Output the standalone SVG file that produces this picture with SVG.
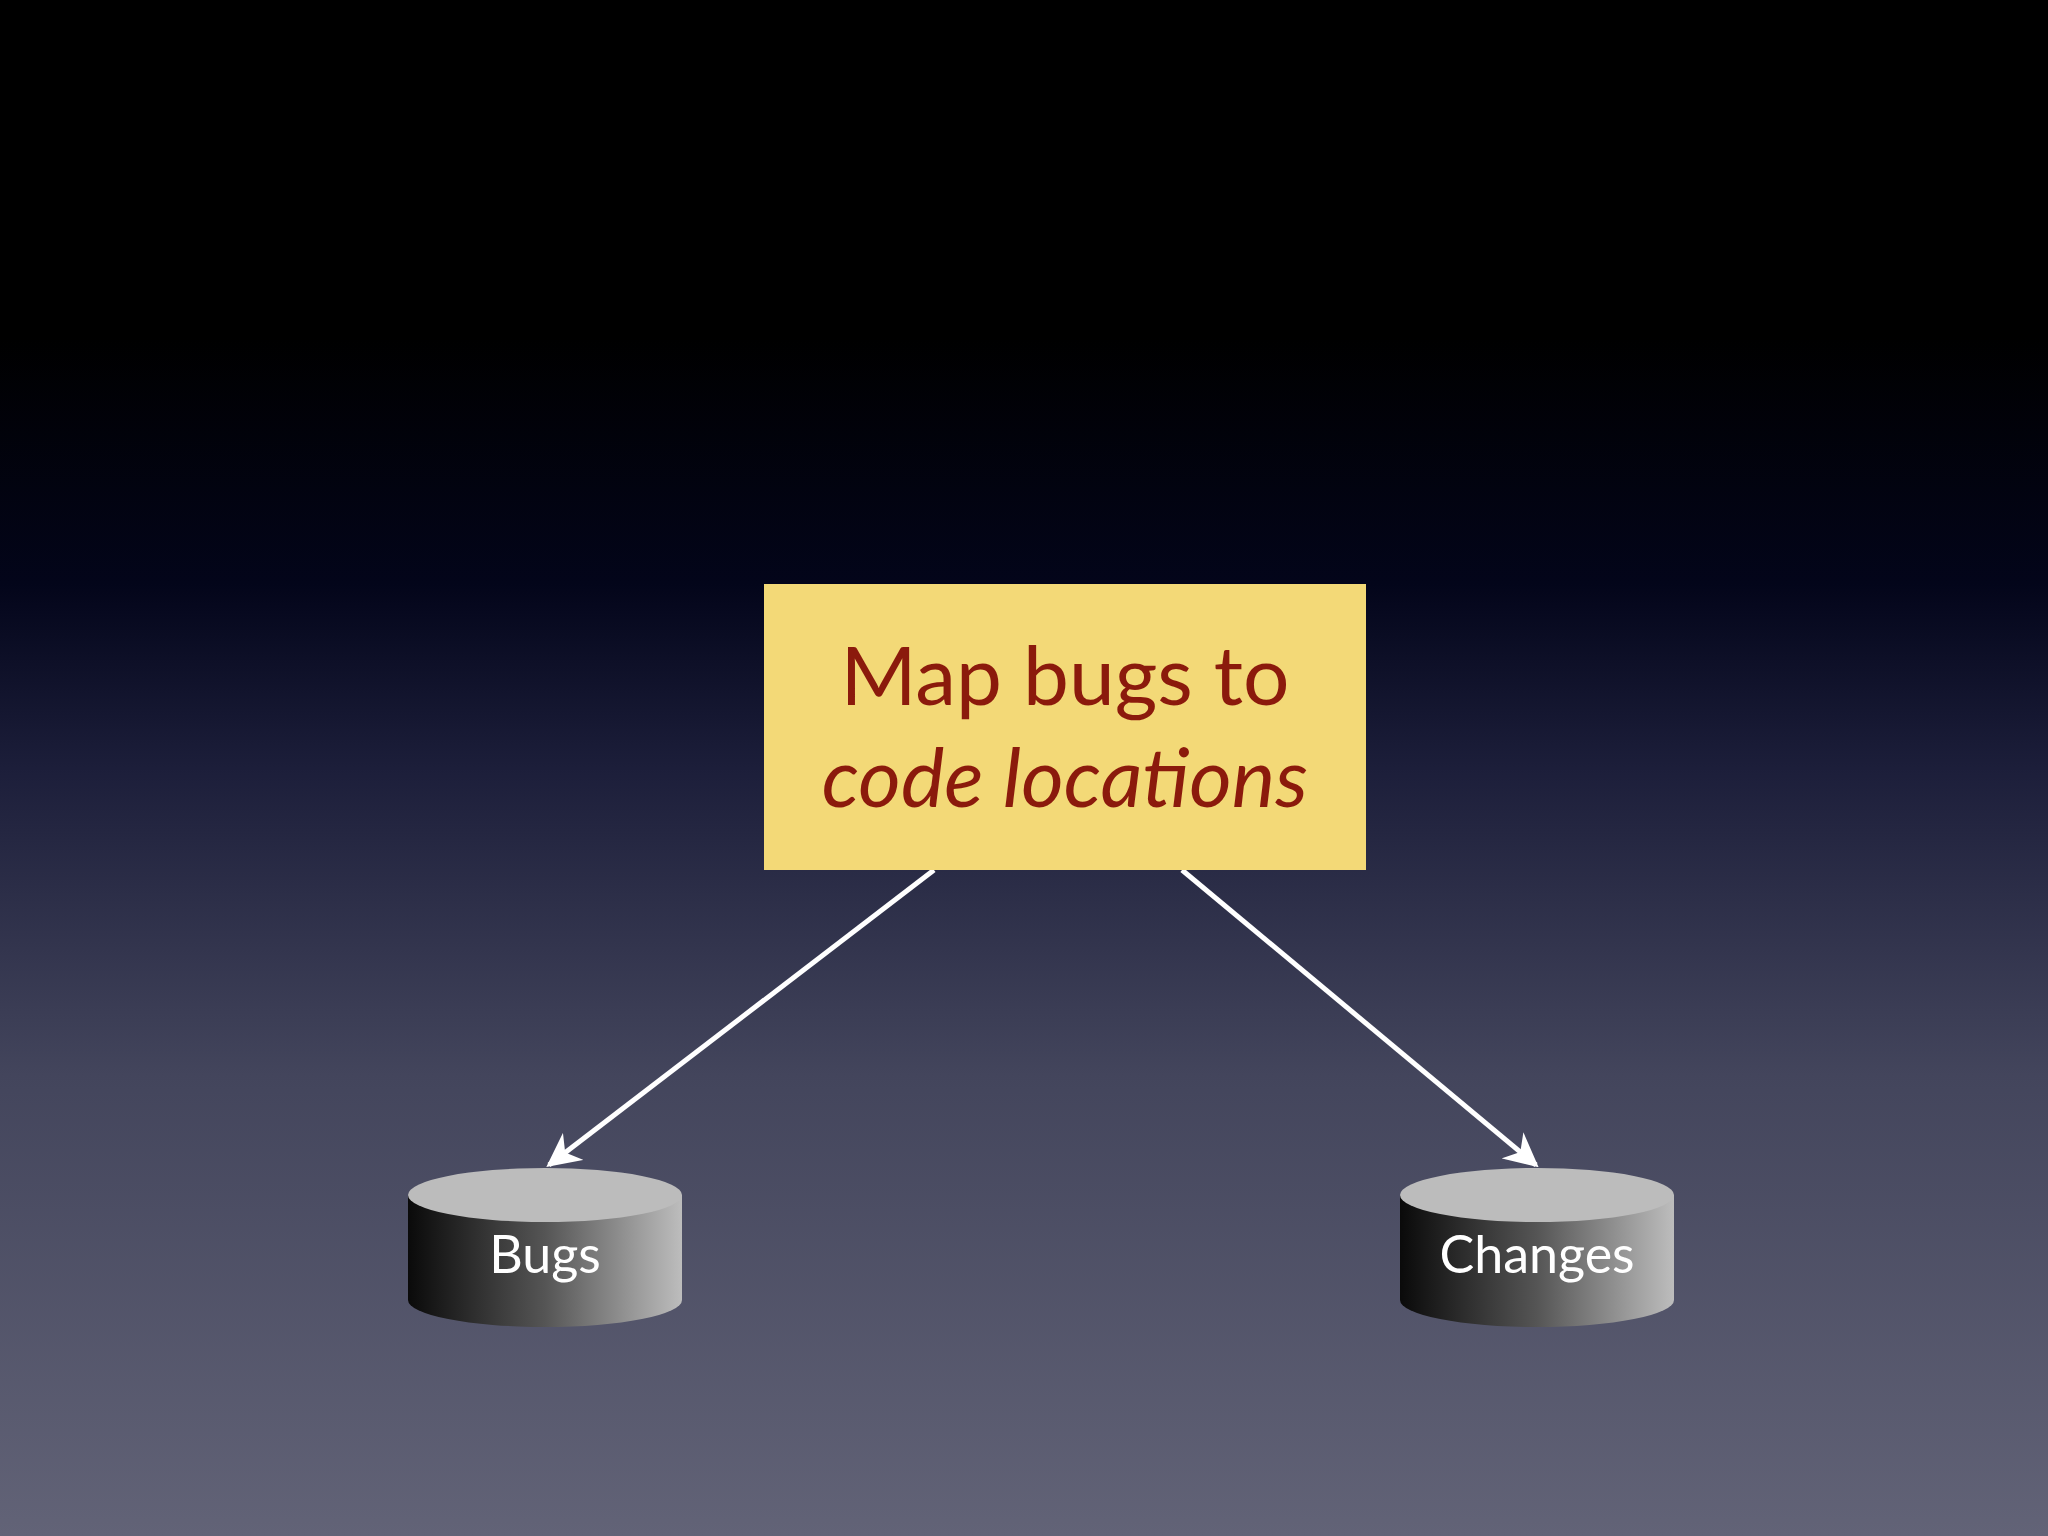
<svg xmlns="http://www.w3.org/2000/svg" width="2048" height="1536" viewBox="0 0 2048 1536">
<defs>
<linearGradient id="bg" x1="0" y1="0" x2="0" y2="1">
<stop offset="0" stop-color="#000"/>
<stop offset="0.22" stop-color="#000"/>
<stop offset="0.38" stop-color="#03051a"/>
<stop offset="0.5" stop-color="#1c1e3a"/>
<stop offset="0.7" stop-color="#43455c"/>
<stop offset="1" stop-color="#626377"/>
</linearGradient>
<linearGradient id="cyl" x1="0" y1="0" x2="1" y2="0">
<stop offset="0" stop-color="#0a0a0a"/>
<stop offset="0.5" stop-color="#555"/>
<stop offset="1" stop-color="#bdbdbd"/>
</linearGradient>
<marker id="ah" viewBox="0 0 10 10" refX="9" refY="5" markerWidth="10" markerHeight="10" orient="auto" markerUnits="userSpaceOnUse">
<path d="M0,0 L10,5 L0,10 L3,5 z" fill="#fff" transform="scale(1)"/>
</marker>
<marker id="ah2" viewBox="0 0 10 10" refX="9" refY="5" markerWidth="34" markerHeight="34" orient="auto" markerUnits="userSpaceOnUse">
<path d="M0,0 L10,5 L0,10 L3,5 z" fill="#fff"/>
</marker>
<style>
.lbl{font-family:"Gill Sans","Lato","Liberation Sans",sans-serif;fill:#fff;font-size:52px;text-anchor:middle}
.t{font-family:"Gill Sans","Lato","Liberation Sans",sans-serif;fill:#8b1a0c;font-size:82px;text-anchor:middle}
</style>
</defs>
<rect width="2048" height="1536" fill="url(#bg)"/>
<g id="connectors" stroke="#fff" stroke-width="5" fill="none">
<line x1="934" y1="870" x2="549" y2="1165" marker-end="url(#ah2)"/>
<line x1="1182" y1="870" x2="1536" y2="1165" marker-end="url(#ah2)"/>
</g>
<g id="task">
<rect x="764" y="584" width="602" height="286" fill="#f3d977"/>
<text class="t" x="1065" y="705">Map bugs to</text>
<text class="t" x="1065" y="807" font-style="italic">code locations</text>
</g>
<g id="bugs">
<path d="M408,1195 L408,1300 A137,27 0 0 0 682,1300 L682,1195 z" fill="url(#cyl)"/>
<ellipse cx="545" cy="1195" rx="137" ry="27" fill="#bcbcbc"/>
<text class="lbl" x="545" y="1273">Bugs</text>
</g>
<g id="changes">
<path d="M1400,1195 L1400,1300 A137,27 0 0 0 1674,1300 L1674,1195 z" fill="url(#cyl)"/>
<ellipse cx="1537" cy="1195" rx="137" ry="27" fill="#bcbcbc"/>
<text class="lbl" x="1537" y="1273">Changes</text>
</g>
</svg>
